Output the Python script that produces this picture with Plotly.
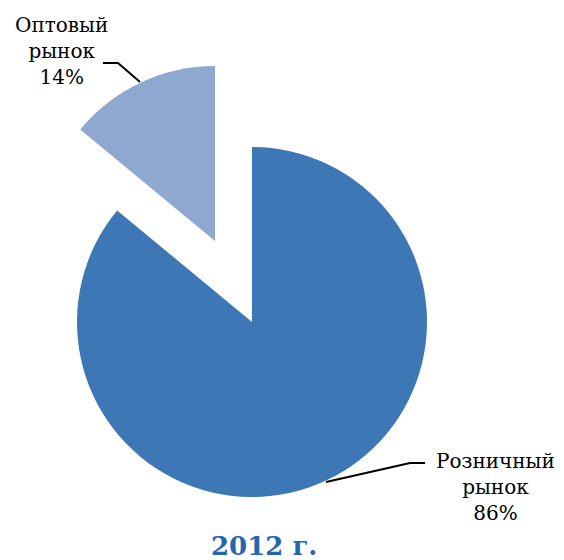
import plotly.graph_objects as go

labels = ["Розничный рынок", "Оптовый рынок"]
values = [86, 14]
label_texts = ["Розничный<br>рынок<br>86%", "Оптовый<br>рынок<br>14%"]
colors = ["#3d77b5", "#8ea8cf"]
title_text = "2012 г."

W, H = 564, 560


def px(x, y):
    return x / W, 1 - y / H


def domain(cx, cy, r):
    return dict(x=[(cx - r) / W, (cx + r) / W], y=[1 - (cy + r) / H, 1 - (cy - r) / H])


fig = go.Figure()
# main pie: retail slice visible
fig.add_trace(go.Pie(
    labels=labels, values=values, sort=False, direction="clockwise", rotation=0,
    marker=dict(colors=[colors[0], "rgba(0,0,0,0)"], line=dict(width=0)),
    textinfo="none", hoverinfo="label+percent", showlegend=False,
    domain=domain(252, 322, 175),
))
# exploded wholesale slice
fig.add_trace(go.Pie(
    labels=labels, values=values, sort=False, direction="clockwise", rotation=0,
    marker=dict(colors=["rgba(0,0,0,0)", colors[1]], line=dict(width=0)),
    textinfo="none", hoverinfo="label+percent", showlegend=False,
    domain=domain(215, 241, 175),
))


def path(points):
    s = ""
    for i, (x, y) in enumerate(points):
        X, Y = px(x, y)
        s += ("M" if i == 0 else "L") + f"{X:.5f},{Y:.5f} "
    return s.strip()


shapes = [
    dict(type="path", xref="paper", yref="paper", path=path([(103, 63), (118, 63), (140, 82)]),
         line=dict(color="black", width=2)),
    dict(type="path", xref="paper", yref="paper", path=path([(326, 482), (410, 463), (425, 463)]),
         line=dict(color="black", width=2)),
]

font = dict(family="DejaVu Serif", size=20, color="black")
annotations = [
    dict(text=label_texts[1], x=61 / W, y=1 - 51 / H, xref="paper", yref="paper",
         showarrow=False, font=font, align="center", xanchor="center", yanchor="middle"),
    dict(text=label_texts[0], x=495 / W, y=1 - 487 / H, xref="paper", yref="paper",
         showarrow=False, font=font, align="center", xanchor="center", yanchor="middle"),
    dict(text="<b>" + title_text + "</b>", x=264 / W, y=1 - 546 / H, xref="paper", yref="paper",
         showarrow=False, font=dict(family="DejaVu Serif", size=26, color="#2365b0"),
         xanchor="center", yanchor="middle"),
]

fig.update_layout(
    width=W, height=H, margin=dict(l=0, r=0, t=0, b=0),
    paper_bgcolor="white", plot_bgcolor="white",
    shapes=shapes, annotations=annotations,
)

fig.write_html("out.html", config={"displayModeBar": False},
               post_script="document.body.style.margin='0';document.body.style.overflow='hidden';")
